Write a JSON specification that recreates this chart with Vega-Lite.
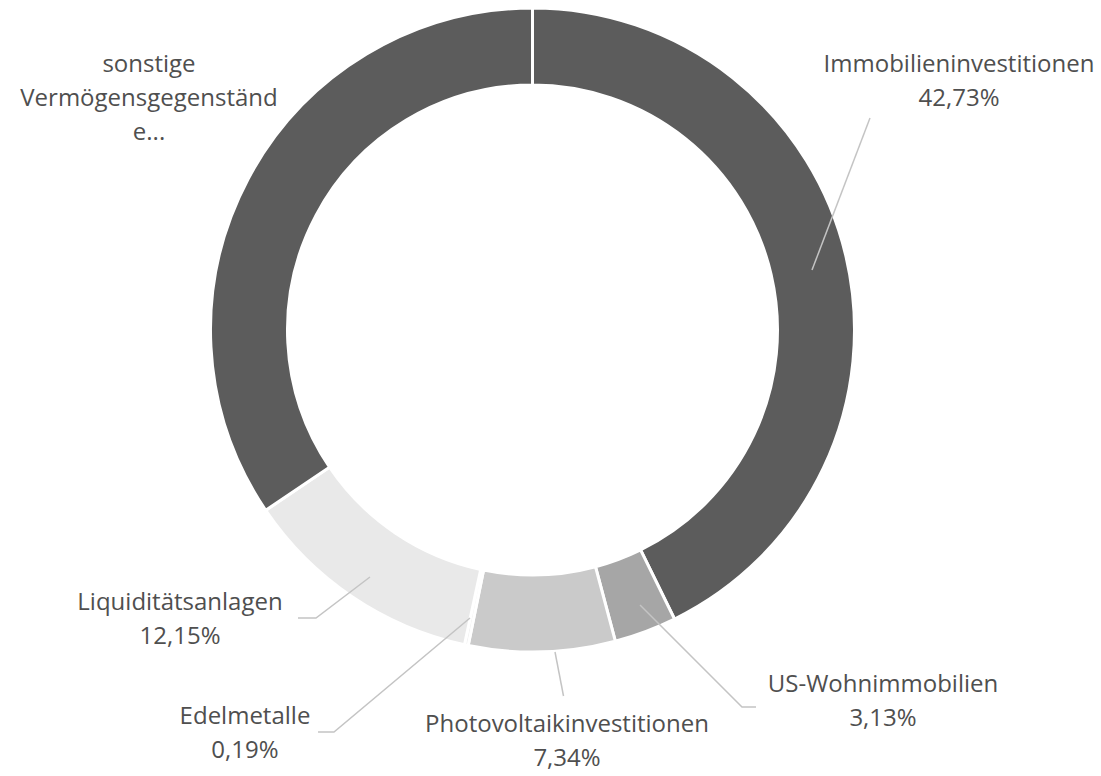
{
  "$schema": "https://vega.github.io/schema/vega-lite/v6.json",
  "width": 1065,
  "height": 660,
  "autosize": {"type": "none"},
  "padding": {"left": 0, "top": 0, "right": 36, "bottom": 116},
  "background": "white",
  "config": {"view": {"stroke": null}},
  "datasets": {
    "slices": [
      {"category": "Immobilieninvestitionen", "value": 42.73, "order": 1},
      {"category": "US-Wohnimmobilien", "value": 3.13, "order": 2},
      {"category": "Photovoltaikinvestitionen", "value": 7.34, "order": 3},
      {"category": "Edelmetalle", "value": 0.19, "order": 4},
      {"category": "Liquiditätsanlagen", "value": 12.15, "order": 5},
      {"category": "sonstige Vermögensgegenstände", "value": 34.46, "order": 6}
    ],
    "labels": [
      {"label": "Immobilieninvestitionen\n42,73%", "u": 1.3245, "v": 0.823},
      {"label": "US-Wohnimmobilien\n3,13%", "u": 1.0885, "v": -1.1025},
      {"label": "Photovoltaikinvestitionen\n7,34%", "u": 0.1071, "v": -1.2267},
      {"label": "Edelmetalle\n0,19%", "u": -0.8929, "v": -1.2003},
      {"label": "Liquiditätsanlagen\n12,15%", "u": -1.0947, "v": -0.8478},
      {"label": "sonstige\nVermögensgegenständ\ne...", "u": -1.191, "v": 0.823}
    ],
    "leaders": [
      {"id": "Immobilien", "seq": 1, "u": 1.0481, "v": 0.6584},
      {"id": "Immobilien", "seq": 2, "u": 0.868, "v": 0.1863},
      {"id": "US", "seq": 1, "u": 0.3339, "v": -0.854},
      {"id": "US", "seq": 2, "u": 0.6506, "v": -1.1708},
      {"id": "US", "seq": 3, "u": 0.6941, "v": -1.1708},
      {"id": "Photo", "seq": 1, "u": 0.0699, "v": -1.0},
      {"id": "Photo", "seq": 2, "u": 0.0963, "v": -1.1366},
      {"id": "Edel", "seq": 1, "u": -0.6661, "v": -1.2484},
      {"id": "Edel", "seq": 2, "u": -0.6165, "v": -1.2484},
      {"id": "Edel", "seq": 3, "u": -0.1941, "v": -0.8944},
      {"id": "Liqui", "seq": 1, "u": -0.7283, "v": -0.8944},
      {"id": "Liqui", "seq": 2, "u": -0.6724, "v": -0.8944},
      {"id": "Liqui", "seq": 3, "u": -0.5047, "v": -0.7671}
    ]
  },
  "layer": [
    {
      "data": {"name": "slices"},
      "mark": {"type": "arc", "outerRadius": 322, "innerRadius": 245, "stroke": "white", "strokeWidth": 3},
      "encoding": {
        "theta": {"field": "value", "type": "quantitative", "stack": true},
        "order": {"field": "order", "type": "quantitative"},
        "color": {
          "field": "category",
          "type": "nominal",
          "legend": null,
          "scale": {
            "domain": ["Immobilieninvestitionen", "US-Wohnimmobilien", "Photovoltaikinvestitionen", "Edelmetalle", "Liquiditätsanlagen", "sonstige Vermögensgegenstände"],
            "range": ["#5c5c5c", "#a6a6a6", "#cacaca", "#f0f0f0", "#e9e9e9", "#5c5c5c"]
          }
        }
      }
    },
    {
      "data": {"name": "leaders"},
      "mark": {"type": "line", "stroke": "#c4c4c4", "strokeWidth": 1.5},
      "encoding": {
        "x": {"field": "u", "type": "quantitative", "axis": null, "scale": {"domain": [-1.6537, 1.6537], "nice": false, "zero": false}},
        "y": {"field": "v", "type": "quantitative", "axis": null, "scale": {"domain": [-1.0248, 1.0248], "nice": false, "zero": false}},
        "detail": {"field": "id", "type": "nominal"},
        "order": {"field": "seq", "type": "quantitative"}
      }
    },
    {
      "data": {"name": "labels"},
      "mark": {"type": "text", "font": "Open Sans", "fontSize": 24, "fill": "#4f4f4f", "align": "center", "baseline": "middle", "lineBreak": "\n", "lineHeight": 34},
      "encoding": {
        "x": {"field": "u", "type": "quantitative", "axis": null, "scale": {"domain": [-1.6537, 1.6537], "nice": false, "zero": false}},
        "y": {"field": "v", "type": "quantitative", "axis": null, "scale": {"domain": [-1.0248, 1.0248], "nice": false, "zero": false}},
        "text": {"field": "label", "type": "nominal"}
      }
    }
  ]
}
